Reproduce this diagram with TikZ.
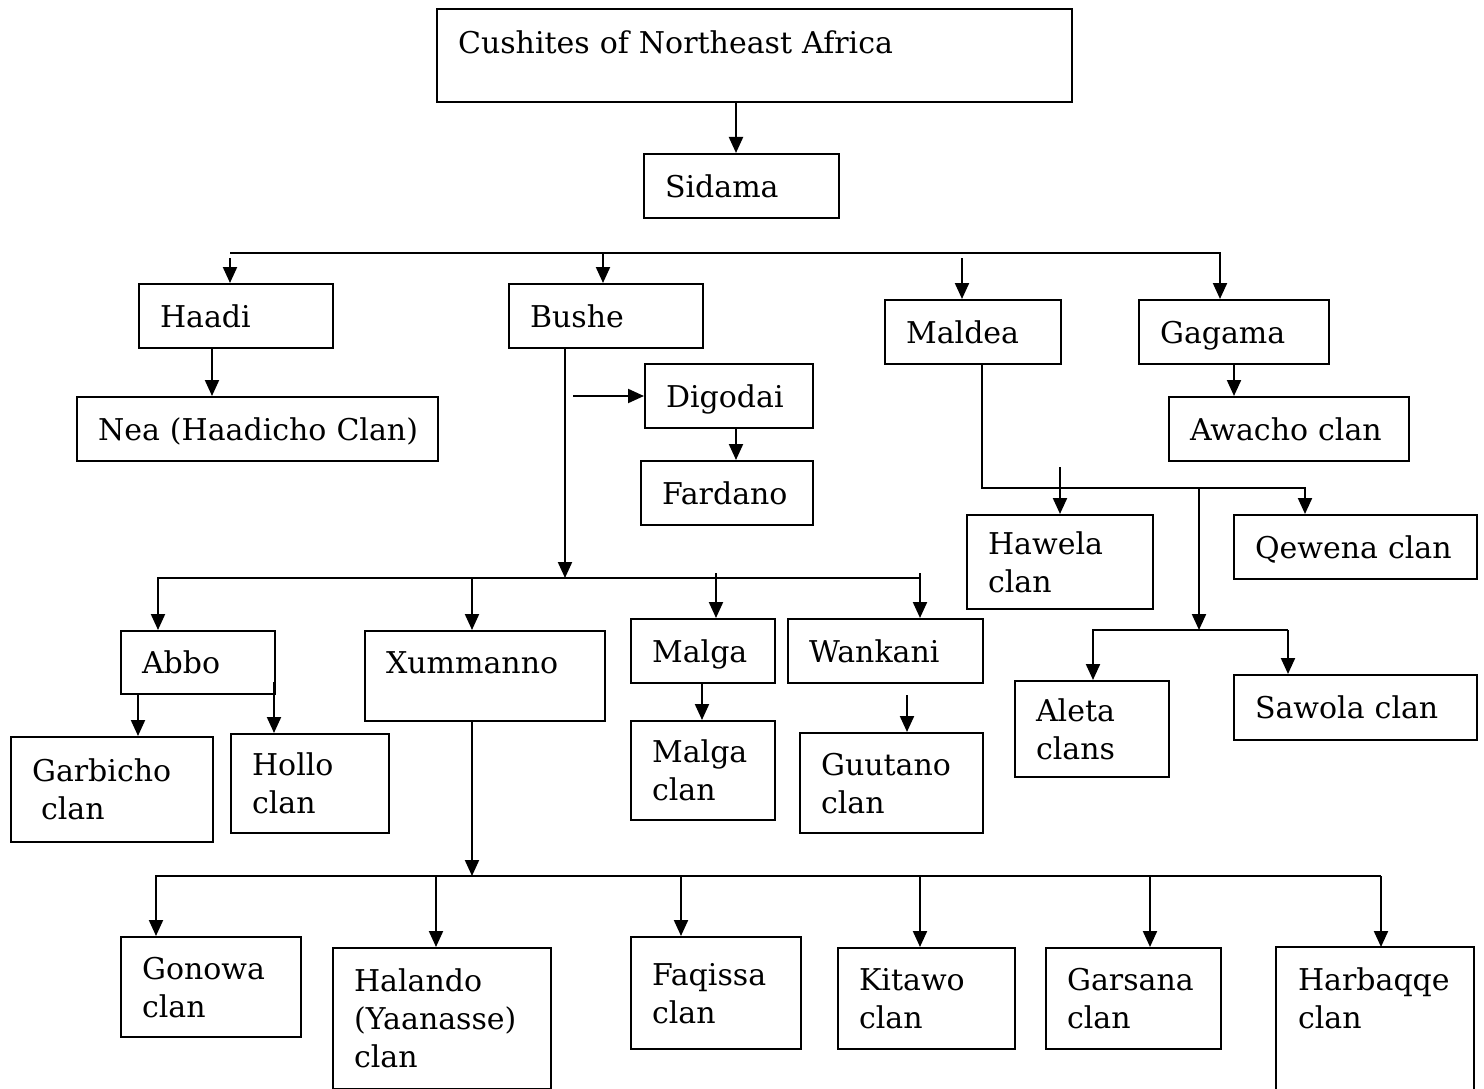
\documentclass[tikz,border=0pt]{standalone}
\usepackage{fontspec}
\setmainfont{DejaVu Serif}
\usetikzlibrary{arrows.meta}
\tikzset{
  box/.style={draw, line width=2.1pt, rectangle, anchor=north west, inner xsep=21pt, inner ysep=0pt,
    align=left, font=\fontsize{30}{38}\selectfont},
  ln/.style={line width=2.1pt},
  arr/.style={line width=2.1pt, -{Triangle[length=16pt,width=14pt]}},
}
\newcommand{\boxstrut}{\rule[-8pt]{0pt}{38pt}}
\newcommand{\cbox}[6][]{\node[box,#1, minimum width=#4pt, minimum height=#5pt, text width=#4pt-42pt] (#2) at (#3) {\boxstrut #6\boxstrut};}
\begin{document}
\begin{tikzpicture}[x=1pt,y=-1pt]
\useasboundingbox[fill=white] (0,0) rectangle (1484,1089);
% boxes
\cbox[text depth=35pt]{cush}{436,8}{635}{93}{\mbox{Cushites of Northeast Africa}}
\cbox{sid}{643,153}{195}{64}{Sidama}
\cbox{haadi}{138,283}{194}{64}{Haadi}
\cbox{bushe}{508,283}{194}{64}{Bushe}
\cbox{maldea}{884,299}{176}{64}{Maldea}
\cbox{gagama}{1138,299}{190}{64}{Gagama}
\cbox{nea}{76,396}{361}{64}{\mbox{Nea (Haadicho Clan)}}
\cbox{digodai}{644,363}{168}{64}{Digodai}
\cbox{fardano}{640,460}{172}{64}{Fardano}
\cbox{awacho}{1168,396}{240}{64}{\mbox{Awacho clan}}
\cbox{hawela}{966,514}{186}{94}{Hawela\\clan}
\cbox{qewena}{1233,514}{243}{64}{\mbox{Qewena clan}}
\cbox{aleta}{1014,680}{154}{96}{Aleta\\clans}
\cbox{sawola}{1233,674}{243}{65}{\mbox{Sawola clan}}
\cbox{abbo}{120,630}{154}{63}{Abbo}
\cbox[text depth=36pt]{xumm}{364,630}{240}{90}{Xummanno}
\cbox{malga}{630,618}{144}{64}{Malga}
\cbox{wankani}{787,618}{195}{64}{Wankani}
\cbox{garbicho}{10,736}{202}{105}{Garbicho\\\hspace*{0.3em}clan}
\cbox{hollo}{230,733}{158}{99}{Hollo\\clan}
\cbox{malgaclan}{630,720}{144}{99}{Malga\\clan}
\cbox{guutano}{799,732}{183}{100}{Guutano\\clan}
\cbox{gonowa}{120,936}{180}{100}{Gonowa\\clan}
\cbox{halando}{332,947}{218}{141}{Halando\\(Yaanasse)\\clan}
\cbox{faqissa}{630,936}{170}{112}{Faqissa\\clan}
\cbox{kitawo}{837,947}{177}{101}{Kitawo\\clan}
\cbox{garsana}{1045,947}{175}{101}{Garsana\\clan}
\cbox[draw=none]{harbaqqe}{1276,947}{196}{101}{Harbaqqe\\clan}
\coordinate (bot) at (0,1110);
\draw[ln] (harbaqqe.north west |- bot) -- (harbaqqe.north west) -- (harbaqqe.north east) -- (harbaqqe.north east |- bot);
% helper coordinates
\coordinate (xc) at (736,0);
\coordinate (x212) at (212,0);
\coordinate (x565) at (565,0);
\coordinate (x982) at (982,0);
\coordinate (x1234) at (1234,0);
\coordinate (x138) at (138,0);
\coordinate (x702) at (702,0);
% top
\draw[arr] (cush.south -| xc) -- (sid.north -| xc);
% bus 1
\coordinate (b1w) at (230,253);
\coordinate (b1e) at (1220,253);
\coordinate (hA) at (230,258);
\coordinate (bA) at (603,253);
\coordinate (mA) at (962,258);
\draw[arr] (b1w) -- (b1e) -- (b1e |- gagama.north);
\draw[arr] (hA) -- (hA |- haadi.north);
\draw[arr] (bA) -- (bA |- bushe.north);
\draw[arr] (mA) -- (mA |- maldea.north);
\draw[arr] (haadi.south -| x212) -- (nea.north -| x212);
\draw[arr] (gagama.south -| x1234) -- (awacho.north -| x1234);
% Bushe branch
\coordinate (b2) at (565,578);
\draw[arr] (bushe.south -| x565) -- (b2);
\coordinate (dA) at (573,396);
\draw[arr] (dA) -- (dA -| digodai.west);
\draw[arr] (digodai.south -| xc) -- (fardano.north -| xc);
% Maldea branch
\coordinate (mJ) at (982,488);
\coordinate (mE) at (1305,488);
\draw[arr] (maldea.south -| x982) -- (mJ) -- (mE) -- (mE |- qewena.north);
\coordinate (hwA) at (1060,467);
\draw[arr] (hwA) -- (hwA |- hawela.north);
\coordinate (aJ) at (1199,488);
\coordinate (aB) at (1199,630);
\draw[arr] (aJ) -- (aB);
\coordinate (aW) at (1093,630);
\coordinate (aE) at (1288,630);
\draw[arr] (aE) -- (aW) -- (aW |- aleta.north);
\draw[arr] (aE) -- (aE |- sawola.north);
% bus 2
\coordinate (b2w) at (158,578);
\coordinate (b2e) at (920,578);
\draw[arr] (b2e) -- (b2w) -- (b2w |- abbo.north);
\coordinate (xA) at (472,578);
\draw[arr] (xA) -- (xA |- xumm.north);
\coordinate (mgA) at (716,573);
\draw[arr] (mgA) -- (mgA |- malga.north);
\coordinate (wA) at (920,573);
\draw[arr] (wA) -- (wA |- wankani.north);
\draw[arr] (abbo.south -| x138) -- (garbicho.north -| x138);
\coordinate (hoA) at (274,682);
\draw[arr] (hoA) -- (hoA |- hollo.north);
\draw[arr] (malga.south -| x702) -- (malgaclan.north -| x702);
\coordinate (gA) at (907,695);
\draw[arr] (gA) -- (gA |- guutano.north);
% bus 3
\coordinate (b3) at (472,876);
\draw[arr] (xumm.south -| xA) -- (b3);
\coordinate (b3w) at (156,876);
\coordinate (b3e) at (1381,876);
\draw[arr] (b3e) -- (b3w) -- (b3w |- gonowa.north);
\coordinate (h3) at (436,876);
\coordinate (f3) at (681,876);
\coordinate (k3) at (920,876);
\coordinate (g3) at (1150,876);
\draw[arr] (h3) -- (h3 |- halando.north);
\draw[arr] (f3) -- (f3 |- faqissa.north);
\draw[arr] (k3) -- (k3 |- kitawo.north);
\draw[arr] (g3) -- (g3 |- garsana.north);
\draw[arr] (b3e) -- (b3e |- harbaqqe.north);
\end{tikzpicture}
\end{document}
